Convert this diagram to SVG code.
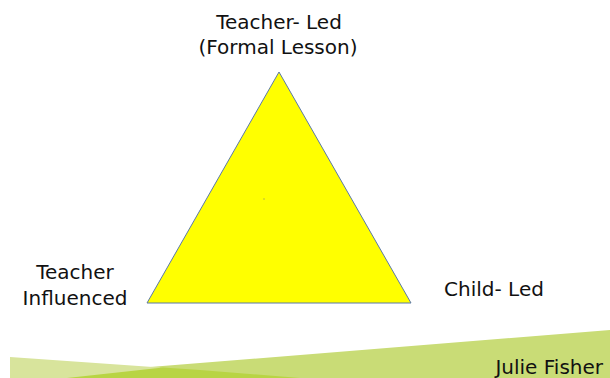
<svg xmlns="http://www.w3.org/2000/svg" width="610" height="378" viewBox="0 0 610 378">
<style>
.t{font-family:"DejaVu Sans","Noto Sans",sans-serif;font-size:20px;fill:#111;}
</style>
<rect width="610" height="378" fill="#fff"/>
<g id="footer">
<polygon points="150,367 610,330 610,378 150,378" fill="#c9dc76"/>
<polygon points="10,357 160,367.5 160,378 10,378" fill="#d8e49c"/>
<polygon points="67,378 163,367.5 200,370 300,378" fill="#b8d444"/>
<text class="t" x="603" y="374" text-anchor="end">Julie Fisher</text>
</g>
<g id="triangle">
<polygon points="279,72 411,303 147,303" fill="#ffff00" stroke="#5a78a8" stroke-width="1"/>
<rect x="263.5" y="198.5" width="1" height="1" fill="#777"/>
</g>
<g id="top-label">
<text class="t" x="279" y="29" text-anchor="middle">Teacher- Led</text>
<text class="t" x="278" y="54" text-anchor="middle">(Formal Lesson)</text>
</g>
<g id="left-label">
<text class="t" x="75" y="279" text-anchor="middle">Teacher</text>
<text class="t" x="75" y="305" text-anchor="middle">Influenced</text>
</g>
<g id="right-label">
<text class="t" x="494" y="296" text-anchor="middle">Child- Led</text>
</g>
<g id="connectors"></g>
</svg>
